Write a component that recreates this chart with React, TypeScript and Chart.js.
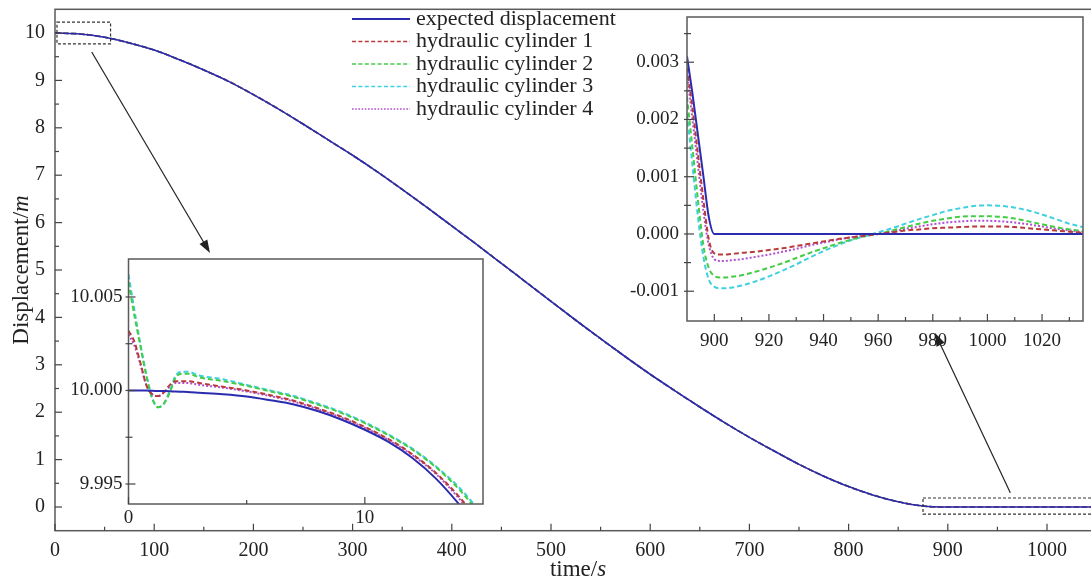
import React, { useEffect, useRef } from 'react';
import { Chart, registerables } from 'chart.js';
Chart.register(...registerables);

const FONT = '"Liberation Serif", "Times New Roman", serif';
const TEXT = '#222';

// ---------- series styling ----------
const seriesLabels = ['expected displacement', 'hydraulic cylinder 1', 'hydraulic cylinder 2', 'hydraulic cylinder 3', 'hydraulic cylinder 4'];
const seriesColors = ['#2b2bb0', '#b83a3a', '#44cc44', '#40d0e0', '#b050d0'];
const seriesDashes: number[][] = [[], [5, 3], [5, 3], [5, 3], [2, 2]];

// ---------- main chart data ----------
const mainTime = [0, 25, 50, 75, 100, 125, 150, 175, 200, 225, 250, 275, 300, 325, 350, 375, 400, 425, 450, 475, 500, 525, 550, 575, 600, 625, 650, 675, 700, 725, 750, 775, 800, 825, 850, 875, 900, 950, 1000, 1050];
const mainExpected = [10.00, 9.98, 9.91, 9.79, 9.64, 9.44, 9.22, 8.98, 8.70, 8.40, 8.08, 7.75, 7.42, 7.07, 6.70, 6.32, 5.93, 5.54, 5.14, 4.74, 4.34, 3.94, 3.55, 3.17, 2.80, 2.45, 2.11, 1.78, 1.47, 1.18, 0.90, 0.65, 0.43, 0.25, 0.11, 0.02, 0.00, 0.00, 0.00, 0.00];
const mainCylinders = [10.00, 9.98, 9.91, 9.79, 9.64, 9.44, 9.22, 8.98, 8.70, 8.40, 8.08, 7.75, 7.42, 7.07, 6.70, 6.32, 5.93, 5.54, 5.14, 4.74, 4.34, 3.94, 3.55, 3.17, 2.80, 2.45, 2.11, 1.78, 1.47, 1.18, 0.90, 0.65, 0.43, 0.25, 0.11, 0.02, 0.00, 0.00, 0.00, 0.00];
const mainXTicks = [0, 100, 200, 300, 400, 500, 600, 700, 800, 900, 1000];
const mainXMinor = [50, 150, 250, 350, 450, 550, 650, 750, 850, 950, 1050];
const mainYTicks = [0, 1, 2, 3, 4, 5, 6, 7, 8, 9, 10];
const mainYMinor = [0.5, 1.5, 2.5, 3.5, 4.5, 5.5, 6.5, 7.5, 8.5, 9.5];

// ---------- inset 1 (start) ----------
const inset1Time = [0, 0.25, 0.5, 0.75, 1, 1.25, 1.5, 1.75, 2, 2.25, 2.5, 3, 4, 5, 6, 7, 8, 9, 10, 11, 12, 13, 14, 15];
const inset1Expected = [10.00000, 10.00000, 10.00000, 10.00000, 9.99998, 9.99997, 9.99997, 9.99996, 9.99994, 9.99993, 9.99992, 9.99988, 9.99980, 9.99968, 9.99948, 9.99925, 9.99890, 9.99845, 9.99790, 9.99725, 9.99640, 9.99530, 9.99390, 9.99230];
const inset1Cyl1 = [10.0032, 10.0026, 10.0015, 10.0003, 9.9998, 9.9997, 9.9999, 10.0003, 10.0005, 10.0005, 10.0005, 10.0004, 10.0002, 10.0000, 9.99975, 9.99945, 9.99905, 9.99860, 9.99805, 9.99740, 9.99660, 9.99560, 9.99430, 9.99270];
const inset1Cyl2 = [10.0058, 10.0040, 10.0024, 10.0008, 9.9996, 9.9991, 9.9993, 9.9999, 10.0007, 10.0009, 10.0009, 10.0007, 10.0005, 10.00025, 9.99995, 9.99965, 9.99925, 9.99880, 9.99825, 9.99760, 9.99685, 9.99590, 9.99470, 9.99320];
const inset1Cyl3 = [10.0062, 10.0043, 10.0025, 10.0009, 9.9996, 9.9991, 9.9993, 10.0000, 10.0008, 10.0010, 10.0010, 10.0008, 10.0006, 10.0003, 10.0000, 9.99970, 9.99930, 9.99885, 9.99830, 9.99765, 9.99690, 9.99595, 9.99480, 9.99335];
const inset1Cyl4 = [10.0030, 10.0024, 10.0014, 10.0003, 9.9998, 9.9997, 9.9999, 10.0002, 10.0004, 10.0004, 10.0004, 10.0003, 10.00015, 9.99995, 9.9997, 9.9994, 9.9990, 9.99855, 9.9980, 9.99735, 9.99655, 9.99555, 9.99420, 9.99255];
const inset1XTicks = [0, 10];
const inset1XMinor = [5];
const inset1YTicks = [9.995, 10.0, 10.005];
const inset1YMinor = [9.9975, 10.0025];

// ---------- inset 2 (end) ----------
const inset2Time = [890, 892, 894, 896, 898, 900, 902, 904, 906, 910, 915, 920, 925, 930, 935, 940, 945, 950, 955, 960, 965, 970, 975, 980, 985, 990, 995, 1000, 1005, 1010, 1015, 1020, 1025, 1030, 1035];
const inset2Expected = [0.0031, 0.00245, 0.00173, 0.00101, 0.00029, 0, 0, 0, 0, 0, 0, 0, 0, 0, 0, 0, 0, 0, 0, 0, 0, 0, 0, 0, 0, 0, 0, 0, 0, 0, 0, 0, 0, 0, 0];
const inset2Cyl1 = [0.0029, 0.0022, 0.0014, 0.0006, -0.0001, -0.00034, -0.00036, -0.00036, -0.00035, -0.00033, -0.00031, -0.00028, -0.00025, -0.00021, -0.00017, -0.00013, -0.00009, -0.00006, -0.00003, 0.0, 0.00003, 0.00006, 0.00008, 0.00010, 0.00011, 0.00012, 0.00013, 0.00013, 0.00013, 0.00012, 0.00010, 0.00008, 0.00006, 0.00004, 0.00002];
const inset2Cyl2 = [0.0024, 0.0015, 0.0006, -0.0002, -0.0006, -0.00073, -0.00076, -0.00076, -0.00075, -0.00072, -0.00066, -0.00059, -0.00051, -0.00042, -0.00033, -0.00025, -0.00017, -0.00010, -0.00004, 0.0, 0.00006, 0.00012, 0.00018, 0.00023, 0.00027, 0.00030, 0.00031, 0.00031, 0.00030, 0.00027, 0.00022, 0.00017, 0.00012, 0.00008, 0.00005];
const inset2Cyl3 = [0.0021, 0.0012, 0.0003, -0.0004, -0.0008, -0.00092, -0.00095, -0.00095, -0.00094, -0.00090, -0.00083, -0.00074, -0.00064, -0.00053, -0.00041, -0.00030, -0.00020, -0.00011, -0.00004, 0.00003, 0.00010, 0.00018, 0.00026, 0.00033, 0.00040, 0.00045, 0.00049, 0.00050, 0.00049, 0.00046, 0.00041, 0.00034, 0.00026, 0.00018, 0.00012];
const inset2Cyl4 = [0.0028, 0.0020, 0.0012, 0.0004, -0.0002, -0.00044, -0.00047, -0.00047, -0.00046, -0.00044, -0.00040, -0.00036, -0.00031, -0.00026, -0.00020, -0.00015, -0.00010, -0.00006, -0.00003, 0.0, 0.00004, 0.00009, 0.00013, 0.00017, 0.00020, 0.00022, 0.00023, 0.00023, 0.00022, 0.00020, 0.00017, 0.00013, 0.00009, 0.00006, 0.00003];
const inset2XTicks = [900, 920, 940, 960, 980, 1000, 1020];
const inset2XMinor = [910, 930, 950, 970, 990, 1010, 1030];
const inset2YTicks = [-0.001, 0, 0.001, 0.002, 0.003];
const inset2YMinor = [-0.0005, 0.0005, 0.0015, 0.0025, 0.0035];

// ---------- annotations (data coords of zoom boxes) ----------
const box1 = { x0: 2, x1: 56, y0: 9.77, y1: 10.23 };
const box2 = { x0: 875, x1: 1070, y0: -0.15, y1: 0.19 };
const xTitle: [string, boolean][] = [['time/', false], ['s', true]];
const yTitle: [string, boolean][] = [['Displacement/', false], ['m', true]];

function drawMixed(ctx: CanvasRenderingContext2D, parts: [string, boolean][], cx: number, cy: number, size: number) {
  const fonts = parts.map(([, it]) => `${it ? 'italic ' : ''}${size}px ${FONT}`);
  let total = 0;
  const widths = parts.map(([t], i) => { ctx.font = fonts[i]; const w = ctx.measureText(t).width; total += w; return w; });
  let x = cx - total / 2;
  ctx.textBaseline = 'middle';
  ctx.textAlign = 'left';
  parts.forEach(([t], i) => { ctx.font = fonts[i]; ctx.fillText(t, x, cy); x += widths[i]; });
}

function drawArrow(ctx: CanvasRenderingContext2D, x1: number, y1: number, x2: number, y2: number) {
  const ang = Math.atan2(y2 - y1, x2 - x1);
  const L = 13, W = 4.5;
  ctx.beginPath();
  ctx.moveTo(x1, y1);
  ctx.lineTo(x2 - Math.cos(ang) * L * 0.8, y2 - Math.sin(ang) * L * 0.8);
  ctx.stroke();
  ctx.beginPath();
  ctx.moveTo(x2, y2);
  ctx.lineTo(x2 - Math.cos(ang) * L - Math.sin(ang) * W, y2 - Math.sin(ang) * L + Math.cos(ang) * W);
  ctx.lineTo(x2 - Math.cos(ang) * L + Math.sin(ang) * W, y2 - Math.sin(ang) * L - Math.cos(ang) * W);
  ctx.closePath();
  ctx.fill();
}

function makeConfig(p: any) {
  const datasets = p.series.map((ys: number[], i: number) => ({
    label: seriesLabels[i],
    data: p.xs.map((x: number, j: number) => ({ x, y: ys[j] })),
    borderColor: seriesColors[i],
    borderDash: seriesDashes[i],
    borderWidth: p.lineWidth,
    pointRadius: 0,
    fill: false,
    cubicInterpolationMode: 'monotone',
  }));
  const decor = {
    id: 'decor',
    beforeDraw(chart: any) {
      if (!p.whiteBg) return;
      const { ctx, chartArea: a } = chart;
      ctx.save();
      ctx.fillStyle = '#fff';
      ctx.fillRect(a.left, a.top, a.right - a.left, a.bottom - a.top);
      ctx.restore();
    },
    afterDraw(chart: any) {
      const { ctx, chartArea: a, scales } = chart;
      const xs = scales.x, ys = scales.y;
      ctx.save();
      ctx.strokeStyle = '#5a5a5a';
      ctx.lineWidth = 1.5;
      ctx.strokeRect(a.left, a.top, a.right - a.left, a.bottom - a.top);
      ctx.lineWidth = 1.2;
      ctx.strokeStyle = '#444';
      const xt = (v: number, len: number) => {
        const px = xs.getPixelForValue(v);
        ctx.beginPath(); ctx.moveTo(px, a.bottom); ctx.lineTo(px, a.bottom - len); ctx.stroke();
      };
      const yt = (v: number, len: number) => {
        const py = ys.getPixelForValue(v);
        ctx.beginPath(); ctx.moveTo(a.left - (p.outTick || 0), py); ctx.lineTo(a.left + len, py); ctx.stroke();
      };
      p.xTicks.forEach((v: number) => xt(v, 7));
      p.xMinor.forEach((v: number) => xt(v, 4));
      p.yTicks.forEach((v: number) => yt(v, 7));
      p.yMinor.forEach((v: number) => yt(v, 4));
      ctx.restore();
      if (p.extra) p.extra(chart);
    },
  };
  return {
    type: 'line',
    data: { datasets },
    options: {
      responsive: false,
      animation: false,
      events: [],
      layout: { padding: p.padding },
      plugins: { legend: { display: false }, tooltip: { enabled: false }, title: { display: false } },
      scales: {
        x: {
          type: 'linear', min: p.xMin, max: p.xMax,
          grid: { display: false, drawTicks: false }, border: { display: false },
          ticks: { color: TEXT, font: { family: FONT, size: p.fontSize }, padding: p.xPad, maxRotation: 0, autoSkip: false, callback: (v: number) => p.xFmt(v) },
          afterBuildTicks: (s: any) => { s.ticks = p.xTicks.map((v: number) => ({ value: v })); },
          afterFit: (s: any) => { s.height = p.xHeight; s.paddingLeft = 0; s.paddingRight = 0; s.paddingTop = 0; s.paddingBottom = 0; },
        },
        y: {
          type: 'linear', min: p.yMin, max: p.yMax,
          grid: { display: false, drawTicks: false }, border: { display: false },
          ticks: { color: TEXT, font: { family: FONT, size: p.fontSize }, padding: p.yPad, autoSkip: false, callback: (v: number) => p.yFmt(v) },
          afterBuildTicks: (s: any) => { s.ticks = p.yTicks.map((v: number) => ({ value: v })); },
          afterFit: (s: any) => { s.width = p.yWidth; s.paddingLeft = 0; s.paddingRight = 0; s.paddingTop = 0; s.paddingBottom = 0; },
        },
      },
    },
    plugins: [decor],
  };
}

function mainExtra(chart: any) {
  const { ctx, scales } = chart;
  const xs = scales.x, ys = scales.y;
  ctx.save();
  // zoom boxes
  ctx.setLineDash([3, 2]);
  ctx.strokeStyle = '#333';
  ctx.lineWidth = 1.2;
  [box1, box2].forEach((b) => {
    const l = xs.getPixelForValue(b.x0), r = xs.getPixelForValue(b.x1);
    const t = ys.getPixelForValue(b.y1), btm = ys.getPixelForValue(b.y0);
    ctx.strokeRect(l, t, r - l, btm - t);
  });
  ctx.setLineDash([]);
  // arrows to insets
  ctx.strokeStyle = '#222';
  ctx.fillStyle = '#222';
  ctx.lineWidth = 1.2;
  drawArrow(ctx, xs.getPixelForValue(37), ys.getPixelForValue(9.6), 210, 253);
  drawArrow(ctx, xs.getPixelForValue(963), ys.getPixelForValue(0.3), 935, 333);
  // legend
  seriesLabels.forEach((lab, i) => {
    const y = 19 + i * 22.5;
    ctx.strokeStyle = seriesColors[i];
    ctx.setLineDash(seriesDashes[i].map((d) => d * 0.8));
    ctx.lineWidth = i === 0 ? 2 : 1.6;
    ctx.beginPath(); ctx.moveTo(352, y); ctx.lineTo(410, y); ctx.stroke();
    ctx.setLineDash([]);
    ctx.fillStyle = TEXT;
    ctx.font = `22px ${FONT}`;
    ctx.textAlign = 'left';
    ctx.textBaseline = 'middle';
    ctx.fillText(lab, 416, y);
  });
  // axis titles
  ctx.fillStyle = TEXT;
  drawMixed(ctx, xTitle, 578, 570, 23);
  ctx.translate(22, 270);
  ctx.rotate(-Math.PI / 2);
  drawMixed(ctx, yTitle, 0, 0, 23);
  ctx.restore();
}

export default function App() {
  const mainRef = useRef<HTMLCanvasElement>(null);
  const in1Ref = useRef<HTMLCanvasElement>(null);
  const in2Ref = useRef<HTMLCanvasElement>(null);

  useEffect(() => {
    const main = new Chart(mainRef.current as any, makeConfig({
      xs: mainTime,
      series: [mainExpected, mainCylinders, mainCylinders, mainCylinders, mainCylinders],
      lineWidth: 1.6,
      xMin: 0, xMax: 1050, yMin: -0.5, yMax: 10.5,
      xTicks: mainXTicks, xMinor: mainXMinor, yTicks: mainYTicks, yMinor: mainYMinor,
      xFmt: (v: number) => String(v), yFmt: (v: number) => String(v),
      fontSize: 20, xPad: 8, yPad: 10,
      padding: { top: 9.3, right: 3.4, left: 0, bottom: 0 },
      yWidth: 55, xHeight: 52.3,
      whiteBg: false, extra: mainExtra,
    }) as any);
    const in1 = new Chart(in1Ref.current as any, makeConfig({
      xs: inset1Time,
      series: [inset1Expected, inset1Cyl1, inset1Cyl2, inset1Cyl3, inset1Cyl4],
      lineWidth: 2,
      xMin: 0, xMax: 15, yMin: 9.99393, yMax: 10.00703,
      xTicks: inset1XTicks, xMinor: inset1XMinor, yTicks: inset1YTicks, yMinor: inset1YMinor,
      xFmt: (v: number) => String(v), yFmt: (v: number) => v.toFixed(3),
      fontSize: 19, xPad: 3, yPad: 6,
      padding: { top: 9, right: 7, left: 0, bottom: 0 },
      yWidth: 68.5, xHeight: 31, outTick: 3,
      whiteBg: true,
    }) as any);
    const in2 = new Chart(in2Ref.current as any, makeConfig({
      xs: inset2Time,
      series: [inset2Expected, inset2Cyl1, inset2Cyl2, inset2Cyl3, inset2Cyl4],
      lineWidth: 2,
      xMin: 890, xMax: 1035, yMin: -0.00152, yMax: 0.00379,
      xTicks: inset2XTicks, xMinor: inset2XMinor, yTicks: inset2YTicks, yMinor: inset2YMinor,
      xFmt: (v: number) => String(v), yFmt: (v: number) => v.toFixed(3),
      fontSize: 19, xPad: 9, yPad: 8,
      padding: { top: 12, right: 8, left: 0, bottom: 0 },
      yWidth: 67, xHeight: 34, outTick: 3,
      whiteBg: true,
    }) as any);
    return () => { main.destroy(); in1.destroy(); in2.destroy(); };
  }, []);

  return (
    <div style={{ position: 'fixed', left: 0, top: 0, width: 1091, height: 583, overflow: 'hidden', background: '#fff' }}>
      <canvas ref={mainRef} width={1100} height={583} style={{ position: 'absolute', left: 0, top: 0, width: 1100, height: 583 }} />
      <canvas ref={in1Ref} width={430} height={285} style={{ position: 'absolute', left: 60, top: 250, width: 430, height: 285 }} />
      <canvas ref={in2Ref} width={471} height={350} style={{ position: 'absolute', left: 620, top: 5, width: 471, height: 350 }} />
    </div>
  );
}
